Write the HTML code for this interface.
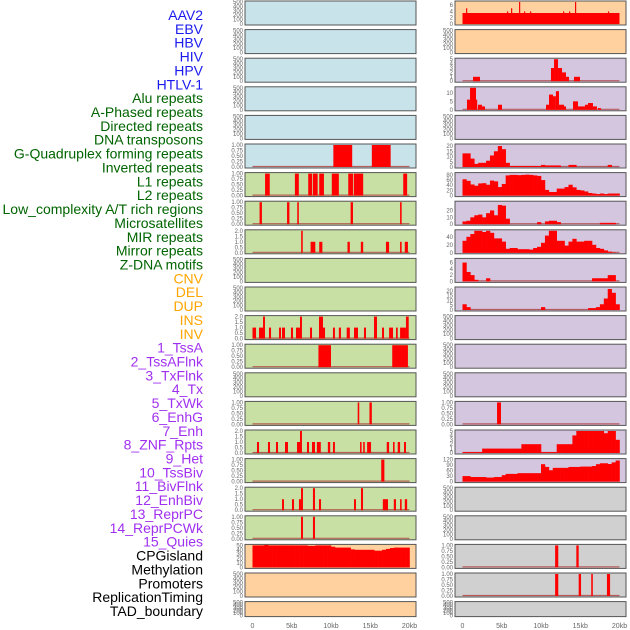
<!DOCTYPE html>
<html><head><meta charset="utf-8">
<style>
html,body{margin:0;padding:0;background:#fff;width:630px;height:630px;overflow:hidden}
svg{display:block}
.lab{font-family:"Liberation Sans",sans-serif;font-size:14px}
.tk{font-family:"Liberation Sans",sans-serif;font-size:6px;fill:#666}
.xt{font-family:"Liberation Sans",sans-serif;font-size:7px;fill:#666}
</style></head>
<body>
<svg id="chart" width="630" height="630" viewBox="0 0 630 630"></svg>
<script>
// ---- data ----
const trackLabels = ["AAV2","EBV","HBV","HIV","HPV","HTLV-1","Alu repeats","A-Phased repeats","Directed repeats","DNA transposons","G-Quadruplex forming repeats","Inverted repeats","L1 repeats","L2 repeats","Low_complexity A/T rich regions","Microsatellites","MIR repeats","Mirror repeats","Z-DNA motifs","CNV","DEL","DUP","INS","INV","1_TssA","2_TssAFlnk","3_TxFlnk","4_Tx","5_TxWk","6_EnhG","7_Enh","8_ZNF_Rpts","9_Het","10_TssBiv","11_BivFlnk","12_EnhBiv","13_ReprPC","14_ReprPCWk","15_Quies","CPGisland","Methylation","Promoters","ReplicationTiming","TAD_boundary"];
const labelColors = ["#1a1aee","#1a1aee","#1a1aee","#1a1aee","#1a1aee","#1a1aee","#006400","#006400","#006400","#006400","#006400","#006400","#006400","#006400","#006400","#006400","#006400","#006400","#006400","#ffa500","#ffa500","#ffa500","#ffa500","#ffa500","#a030f0","#a030f0","#a030f0","#a030f0","#a030f0","#a030f0","#a030f0","#a030f0","#a030f0","#a030f0","#a030f0","#a030f0","#a030f0","#a030f0","#a030f0","#000","#000","#000","#000","#000"];
const xTicks = [0,5,10,15,20];
const xTickLabels = ["0","5kb","10kb","15kb","20kb"];
const leftBg = ["b","b","b","b","b","b","g","g","g","g","g","g","g","g","g","g","g","g","g","o","o","o"];
const rightBg = ["o","o","p","p","p","p","p","p","p","p","p","p","p","p","p","p","p","y","y","y","y","y"];
const leftYmax = [500,500,500,500,500,1,1,1,2,500,500,2,1,500,1,2,1,2,1,50,500,500];
const rightYmax = [7,500,5,13,500,21,85,32,55,7,23,500,500,500,1,5,120,500,500,1,1,500];
// segments [startKb, endKb, value]
const leftSegs = {
 5:[[10.3,12.7,1],[15.2,17.6,1]],
 6:[[1.6,2.2,1],[5.4,5.9,1],[7.1,7.6,1],[7.7,8.3,1],[8.5,9.1,1],[10.1,11.0,1],[12.2,12.8,1],[12.9,14.1,1],[19.2,19.7,1]],
 7:[[0.9,1.2,1],[4.4,4.7,1],[5.7,5.9,1],[12.5,12.8,1],[18.8,19.0,1]],
 8:[[6.2,6.4,2],[7.4,8.0,1],[8.5,8.9,1],[12.1,12.4,1],[13.8,14.1,1],[17.0,17.4,1],[18.8,19.0,1],[19.4,19.8,1]],
 11:[[0,0.45,1],[0.83,1.34,1],[1.34,1.59,2],[2.1,2.36,1],[3.38,3.63,1],[3.76,4.14,1],[4.9,5.16,1],[5.54,6.05,1],[6.05,6.3,2],[7.33,7.58,1],[8.47,8.98,2],[8.98,9.24,1],[10.25,10.5,1],[11.0,11.27,1],[12.0,12.4,1],[12.93,13.44,1],[14.2,14.46,1],[15.48,15.86,2],[16.5,16.75,1],[17.4,17.9,1],[18.28,18.5,1],[18.8,19.55,1],[19.55,19.9,2]],
 12:[[8.4,10.0,1],[17.8,19.8,1]],
 14:[[13.4,13.6,1],[14.9,15.2,1]],
 15:[[0.57,0.83,1],[1.97,2.23,1],[2.99,3.25,1],[4.14,4.52,1],[5.67,6.05,1],[6.05,6.3,2],[6.94,7.2,1],[7.58,7.96,1],[8.2,8.7,1],[9.6,9.9,1],[10.25,10.5,1],[13.7,13.9,1],[14.1,14.3,1],[14.6,15.1,1],[17.1,17.4,1],[17.9,18.1,1],[18.5,18.8,1],[19.3,19.55,1]],
 16:[[16.4,16.8,1]],
 17:[[3.76,4.01,1],[5.03,5.29,1],[5.92,6.18,1],[6.18,6.43,2],[7.7,7.96,2],[8.47,8.73,1],[12.93,13.18,1],[13.82,14.08,2],[16.6,17.26,1],[18.0,18.28,1],[18.8,19.0,1],[19.4,19.7,1]],
 18:[[6.18,6.43,1],[7.7,7.96,1]]
};
const rightSegs = {
 0:[[0,20,3.5],[0.45,0.57,5],[5.67,5.8,4],[6.18,6.3,5],[7.2,7.33,7],[7.83,7.96,4],[8.6,8.73,4],[12.8,12.93,4],[13.57,13.7,4],[14.33,14.46,7],[18.53,18.66,4]],
 2:[[1.34,2.23,1],[11.27,11.66,3],[11.66,12.17,5],[12.17,12.68,3],[12.68,13.18,2],[13.18,13.57,1],[14.2,14.97,1]],
 3:[[0.57,0.96,6],[0.96,1.72,13],[1.72,1.85,6],[1.97,2.48,3],[2.48,2.87,2],[4.52,5.03,3],[10.64,11.02,3],[11.02,11.53,9],[11.53,11.9,8],[11.9,12.29,11],[12.29,12.93,3],[12.93,13.18,2],[14.08,14.71,5],[14.71,15.6,2],[15.6,15.99,3],[15.99,16.62,4],[16.62,17.13,2],[17.26,17.64,1]],
 14:[[4.4,4.9,1]],
 19:[[11.8,12.2,1],[14.5,14.8,1]],
 20:[[11.8,12.2,1],[14.8,15.1,1],[16.4,16.6,1],[18.4,18.8,1]]
};
// 40 bins of 0.5kb
const leftBins = {
 19:[50,50,50,51,50,50,50,50,50,50,50,50,50,50,49,49,50,50,50,50,47,45,45,45,45,41,40,40,40,40,40,38,38,40,42,44,45,45,45,45]
};
const rightBins = {
 5:[13,13,8,3,4,4,6,11,15,20,17,4,1,1,1,1,1,1,1,1,2,1.5,1.5,1.5,1.5,0,0,2,2,0,0,0,0,0,0,0,0,2,0,0],
 6:[63,57,43,38,47,48,42,58,55,33,45,78,80,80,79,80,81,80,78,76,60,22,14,14,27,27,33,42,32,22,20,16,10,8,6,8,6,8,8,8],
 7:[4,5,10,13,14,10,16,20,13,28,27,8,0,0,0,0,0,0,0,3,0,4,5,5,3,0,0,0,0,0,0,0,0,0,0,2,2,2,2,0],
 8:[30,40,47,55,55,52,55,50,36,36,28,10,12,12,9,9,9,8,12,15,25,43,55,55,30,30,18,28,35,28,28,30,30,20,12,10,6,3,1,0],
 9:[6,3,2,0.5,0,0,1,0,0,0,0,0,0,0,0,0,0,0,0,0,0,0,0,0,0,0,0,0,0,0,0,0,0,1,1,1,1,2,2,0],
 10:[6,3,0,0,0,0,0,0,0,0,0,0,0,0,0,0,0,0,0,0,3,0,0,0,0,0,0,0,0,0,0,0,2,2,3,6,12,22,18,6],
 15:[0.2,0.2,0.2,0.2,0.2,1,1,1,1,1,1,1,1,1,1,2,2,2,2,2,0.2,0.2,0.2,0.2,2,2,2,2,4,5,5,5,5,5,5,5,4.5,5,5,3],
 16:[30,30,25,25,25,25,22,22,25,25,35,42,42,42,46,46,46,46,46,46,95,80,62,75,75,75,75,80,80,80,82,82,82,85,95,100,100,96,105,115]
};
const emptyTicks=[0,100,200,300,400,500];
function ticksFor(m){
 if(m===500) return emptyTicks.map(v=>[v,String(v)]);
 if(m===1) return [0,0.25,0.5,0.75,1].map(v=>[v,v.toFixed(2)]);
 if(m===2) return [0,0.5,1,1.5,2].map(v=>[v,v.toFixed(1)]);
 if(m===7) return [0,2,4,6].map(v=>[v,String(v)]);
 if(m===5) return [0,1,2,3,4,5].map(v=>[v,String(v)]);
 if(m===13) return [0,5,10].map(v=>[v,String(v)]);
 if(m===21) return [0,5,10,15,20].map(v=>[v,String(v)]);
 if(m===85) return [0,20,40,60,80].map(v=>[v,String(v)]);
 if(m===32) return [0,10,20].map(v=>[v,String(v)]);
 if(m===55) return [0,20,40].map(v=>[v,String(v)]);
 if(m===23) return [0,5,10,15,20].map(v=>[v,String(v)]);
 if(m===120) return [0,30,60,90,120].map(v=>[v,String(v)]);
 if(m===50) return [0,10,20,30,40,50].map(v=>[v,String(v)]);
 return [[0,"0"]];
}
// ---- drawing ----
const NS="http://www.w3.org/2000/svg";
const svg=document.getElementById('chart');
function mk(tag,attrs,parent){const e=document.createElementNS(NS,tag);for(const k in attrs)e.setAttribute(k,attrs[k]);(parent||svg).appendChild(e);return e;}
const bgCol={b:"#c8e4ea",g:"#c8e0a4",o:"#ffd19e",p:"#d5c6e0",y:"#d0d0d0"};
const colX=[245,455];
const panelW=171;
function rowTop(i){return 1+28.6*i;}
function rowH(i){return i===21?15:24;}
function xScale(c,kb){return colX[c]+7.5+kb*7.85;}

// labels
const labG=mk('g',{});


trackLabels.forEach((t,i)=>{
 const e=mk('text',{x:203,y:20+i*13.86,'text-anchor':'end',class:'lab',fill:labelColors[i]},labG);
 e.textContent=t;
 
 
});

function drawPanel(c,i,bg,ymax,segs,bins){
 const top=rowTop(i),h=rowH(i);
 const g=mk('g',{});
 
 
 mk('rect',{x:colX[c],y:top,width:panelW,height:h,fill:bgCol[bg],stroke:'#555','stroke-width':1},g);
 const y0=top+h-1, y1=top+1;
 const ys=v=>y0-(v/ymax)*(y0-y1);
 ticksFor(ymax).forEach(([v,l])=>{
  const t=mk('text',{x:colX[c]-2,y:ys(v)+2,'text-anchor':'end',class:'tk'},g);t.textContent=l;
 });
 const hasData=!!(segs||bins);
 if(hasData){
  mk('line',{x1:xScale(c,0),x2:xScale(c,20),y1:y0-0.5,y2:y0-0.5,stroke:'#b04040','stroke-width':1.2,opacity:0.8},g);
 }
 if(bins){
  bins.forEach((v,k)=>{
   if(v<=0)return;
   const r=mk('rect',{x:xScale(c,k*0.5),y:ys(v),width:xScale(c,(k+1)*0.5)-xScale(c,k*0.5)+0.3,height:y0-ys(v),fill:'#ff0000'},g);
   
   
  });
 }
 if(segs){
  segs.forEach(([a,b,v])=>{
   const x=xScale(c,a),w=Math.max(1.2,xScale(c,b)-x);
   const r=mk('rect',{x:x,y:ys(v),width:w,height:y0-ys(v),fill:'#ff0000'},g);
   
   
  });
 }
}
for(let i=0;i<22;i++){
 drawPanel(0,i,leftBg[i],leftYmax[i],leftSegs[i],leftBins[i]);
 drawPanel(1,i,rightBg[i],rightYmax[i],rightSegs[i],rightBins[i]);
}
// x axes
[0,1].forEach(c=>{
 const g=mk('g',{});
 
 
 xTicks.forEach((v,k)=>{
  const t=mk('text',{x:xScale(c,v),y:628,'text-anchor':'middle',class:'xt'},g);
  t.textContent=xTickLabels[k];
 });
});
</script>
</body></html>
